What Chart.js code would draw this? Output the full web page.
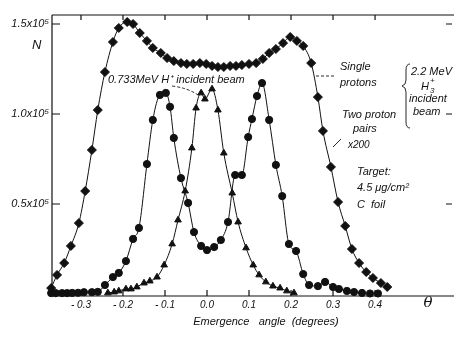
<!DOCTYPE html>
<html>
<head>
<meta charset="utf-8">
<script src="https://cdn.jsdelivr.net/npm/chart.js@4.4.0/dist/chart.umd.min.js"></script>
<style>
  html, body { margin: 0; padding: 0; background: #fff; }
  #wrap { width: 454px; height: 339px; }
</style>
</head>
<body>
<div id="wrap"><canvas id="chart"></canvas></div>
<script>
// angle in degrees, N in units of 10^5

// single protons (2.2 MeV H3+ beam) - diamonds
var singleAngle = [-0.371, -0.357, -0.340, -0.324, -0.305, -0.290, -0.274, -0.260, -0.243, -0.224,
    -0.210, -0.190, -0.176, -0.160, -0.143, -0.129, -0.110, -0.095, -0.079, -0.062,
    -0.048, -0.033, -0.017, -0.002, 0.012, 0.026, 0.040, 0.055, 0.069, 0.083,
    0.100, 0.117, 0.133, 0.148, 0.164, 0.181, 0.198, 0.214, 0.229, 0.248,
    0.264, 0.276, 0.295, 0.312, 0.329, 0.345, 0.362, 0.379, 0.395, 0.414, 0.429];
var singleN = [0.033, 0.106, 0.172, 0.267, 0.394, 0.572, 0.800, 1.022, 1.233, 1.400,
    1.478, 1.511, 1.500, 1.450, 1.406, 1.367, 1.339, 1.311, 1.294, 1.283,
    1.278, 1.278, 1.283, 1.278, 1.267, 1.261, 1.261, 1.267, 1.267, 1.272,
    1.278, 1.283, 1.306, 1.339, 1.361, 1.394, 1.428, 1.406, 1.378, 1.283,
    1.094, 0.906, 0.706, 0.511, 0.378, 0.250, 0.172, 0.122, 0.089, 0.061, 0.039];

// two proton pairs x200 - circles
var pairAngle = [-0.371, -0.360, -0.345, -0.333, -0.321, -0.307, -0.293, -0.274, -0.260, -0.243,
    -0.224, -0.210, -0.193, -0.176, -0.162, -0.143, -0.129, -0.112, -0.098, -0.088,
    -0.079, -0.062, -0.045, -0.031, -0.014, 0.000, 0.017, 0.033, 0.050, 0.067,
    0.083, 0.098, 0.107, 0.119, 0.131, 0.148, 0.164, 0.179, 0.195, 0.212,
    0.229, 0.243, 0.264, 0.281, 0.300, 0.314, 0.333, 0.350, 0.369, 0.388, 0.407];
var pairN = [0.005, 0.005, 0.005, 0.005, 0.006, 0.007, 0.010, 0.010, 0.012, 0.050,
    0.094, 0.117, 0.183, 0.306, 0.367, 0.722, 0.967, 1.106, 1.117, 1.040,
    0.867, 0.644, 0.506, 0.344, 0.267, 0.244, 0.261, 0.300, 0.400, 0.661,
    0.661, 0.872, 0.972, 1.100, 1.172, 0.967, 0.717, 0.544, 0.278, 0.239,
    0.111, 0.050, 0.044, 0.067, 0.039, 0.028, 0.017, 0.011, 0.006, 0.003, 0.003];

// 0.733 MeV H+ beam - triangles
var hAngle = [-0.236, -0.221, -0.210, -0.193, -0.181, -0.167, -0.150, -0.136, -0.119, -0.102,
    -0.083, -0.069, -0.052, -0.036, -0.026, -0.014, -0.005, 0.012, 0.026, 0.040,
    0.060, 0.074, 0.093, 0.110, 0.124, 0.140, 0.157, 0.174, 0.190, 0.207];
var hN = [0.006, 0.011, 0.017, 0.028, 0.028, 0.039, 0.061, 0.072, 0.094, 0.161,
    0.278, 0.411, 0.572, 0.811, 1.033, 1.117, 1.083, 1.139, 1.022, 0.783,
    0.561, 0.400, 0.256, 0.161, 0.106, 0.067, 0.044, 0.033, 0.017, 0.006];

var xTicks = [-0.3, -0.2, -0.1, 0.0, 0.1, 0.2, 0.3, 0.4];
var yTicks = [0.5, 1.0, 1.5];
var yTickLabels = ['0.5x10⁵', '1.0x10⁵', '1.5x10⁵'];

var FONT = '"Liberation Sans", Arial, sans-serif';
Chart.defaults.font.family = FONT;
Chart.defaults.color = '#111';

function pts(xs, ys) {
    return xs.map(function (x, i) { return { x: x, y: ys[i] }; });
}

function series(data, style, r) {
    return {
        data: data,
        pointStyle: style,
        pointRadius: r,
        borderColor: '#111',
        backgroundColor: '#111',
        pointBorderWidth: 1,
        borderWidth: 1,
        cubicInterpolationMode: 'monotone',
        clip: false
    };
}

// frame, inward ticks and the hand lettering
var decor = {
    id: 'decor',
    beforeDatasetsDraw: function (chart) {
        var ctx = chart.ctx, a = chart.chartArea;
        var xs = chart.scales.x, ys = chart.scales.y;
        ctx.save();
        ctx.strokeStyle = '#111';
        ctx.lineWidth = 1.2;
        ctx.beginPath();
        ctx.moveTo(a.left, a.top); ctx.lineTo(a.right, a.top);
        ctx.moveTo(a.left, a.top); ctx.lineTo(a.left, a.bottom);
        ctx.moveTo(a.left, a.bottom); ctx.lineTo(a.right, a.bottom);
        xTicks.forEach(function (v) {
            var px = xs.getPixelForValue(v);
            ctx.moveTo(px, a.bottom); ctx.lineTo(px, a.bottom - 6);
            ctx.moveTo(px, a.top); ctx.lineTo(px, a.top + 5);
        });
        yTicks.forEach(function (v) {
            var py = ys.getPixelForValue(v);
            ctx.moveTo(a.left, py); ctx.lineTo(a.left + 8, py);
            ctx.moveTo(a.right - 8, py); ctx.lineTo(a.right - 2, py);
        });
        ctx.stroke();
        ctx.restore();
    },
    afterDraw: function (chart) {
        var ctx = chart.ctx;
        ctx.save();
        ctx.fillStyle = '#111';
        ctx.textBaseline = 'middle';
        ctx.textAlign = 'left';
        ctx.font = 'italic 11px ' + FONT;

        ctx.fillText('0.733MeV H⁺ incident beam', 108, 80);
        ctx.fillText('Single', 340, 67);
        ctx.fillText('protons', 340, 83);
        ctx.fillText('Two proton', 342, 115);
        ctx.fillText('pairs', 353, 129);
        ctx.fillText('2.2 MeV', 411, 72);
        ctx.fillText('incident', 409, 99);
        ctx.fillText('beam', 413, 112);
        ctx.fillText('Target:', 357, 172);
        ctx.fillText('4.5 μg/cm²', 357, 188);
        ctx.fillText('C  foil', 357, 205);
        ctx.font = 'italic 10px ' + FONT;
        ctx.fillText('x200', 348, 145);

        // H3+
        ctx.font = 'italic 11px ' + FONT;
        ctx.fillText('H', 421, 87);
        ctx.font = 'italic 8px ' + FONT;
        ctx.fillText('+', 430, 81);
        ctx.fillText('3', 430, 91);

        // axis captions
        ctx.font = 'italic 13px ' + FONT;
        ctx.fillText('N', 32, 45);
        ctx.font = 'italic 11px ' + FONT;
        ctx.textAlign = 'center';
        ctx.fillText('Emergence   angle  (degrees)', 266, 322);
        ctx.font = 'italic 15px "DejaVu Serif", serif';
        ctx.fillText('θ', 428, 303);

        // brace and pointers
        ctx.strokeStyle = '#111';
        ctx.lineWidth = 0.9;
        ctx.beginPath();
        ctx.moveTo(410, 64);
        ctx.quadraticCurveTo(406, 64, 406, 70);
        ctx.lineTo(406, 80);
        ctx.quadraticCurveTo(406, 85, 402, 86);
        ctx.quadraticCurveTo(406, 87, 406, 92);
        ctx.lineTo(406, 122);
        ctx.quadraticCurveTo(406, 128, 410, 128);
        ctx.moveTo(333, 147); ctx.lineTo(341, 139);
        ctx.stroke();

        ctx.setLineDash([3, 2]);
        ctx.beginPath();
        ctx.moveTo(316, 76); ctx.lineTo(336, 76);
        ctx.moveTo(172, 86);
        ctx.quadraticCurveTo(188, 88, 198, 95);
        ctx.stroke();
        ctx.restore();
    }
};

new Chart(document.getElementById('chart'), {
    type: 'line',
    data: {
        datasets: [
            series(pts(singleAngle, singleN), 'rectRot', 4.5),
            series(pts(pairAngle, pairN), 'circle', 3.6),
            series(pts(hAngle, hN), 'triangle', 3.8)
        ]
    },
    options: {
        responsive: true,
        maintainAspectRatio: false,
        animation: false,
        events: [],
        layout: { padding: { top: 15, right: 0, left: 0, bottom: 0 }, autoPadding: false },
        plugins: { legend: { display: false }, tooltip: { enabled: false } },
        scales: {
            x: {
                type: 'linear',
                min: -0.369,
                max: 0.588,
                grid: { display: false, drawTicks: false },
                border: { display: false },
                afterBuildTicks: function (s) { s.ticks = xTicks.map(function (v) { return { value: v }; }); },
                afterFit: function (s) { s.height = 43; },
                ticks: {
                    padding: 3,
                    maxRotation: 0,
                    autoSkip: false,
                    font: { size: 10, style: 'italic' },
                    callback: function (v) { return v < 0 ? '- ' + Math.abs(v).toFixed(1) : v.toFixed(1); }
                }
            },
            y: {
                type: 'linear',
                min: -0.011,
                max: 1.55,
                grid: { display: false, drawTicks: false },
                border: { display: false },
                afterBuildTicks: function (s) { s.ticks = yTicks.map(function (v) { return { value: v }; }); },
                afterFit: function (s) { s.width = 52; },
                ticks: {
                    padding: 3,
                    font: { size: 11, style: 'italic' },
                    callback: function (v, i) { return yTickLabels[i]; }
                }
            }
        }
    },
    plugins: [decor]
});
</script>
</body>
</html>
